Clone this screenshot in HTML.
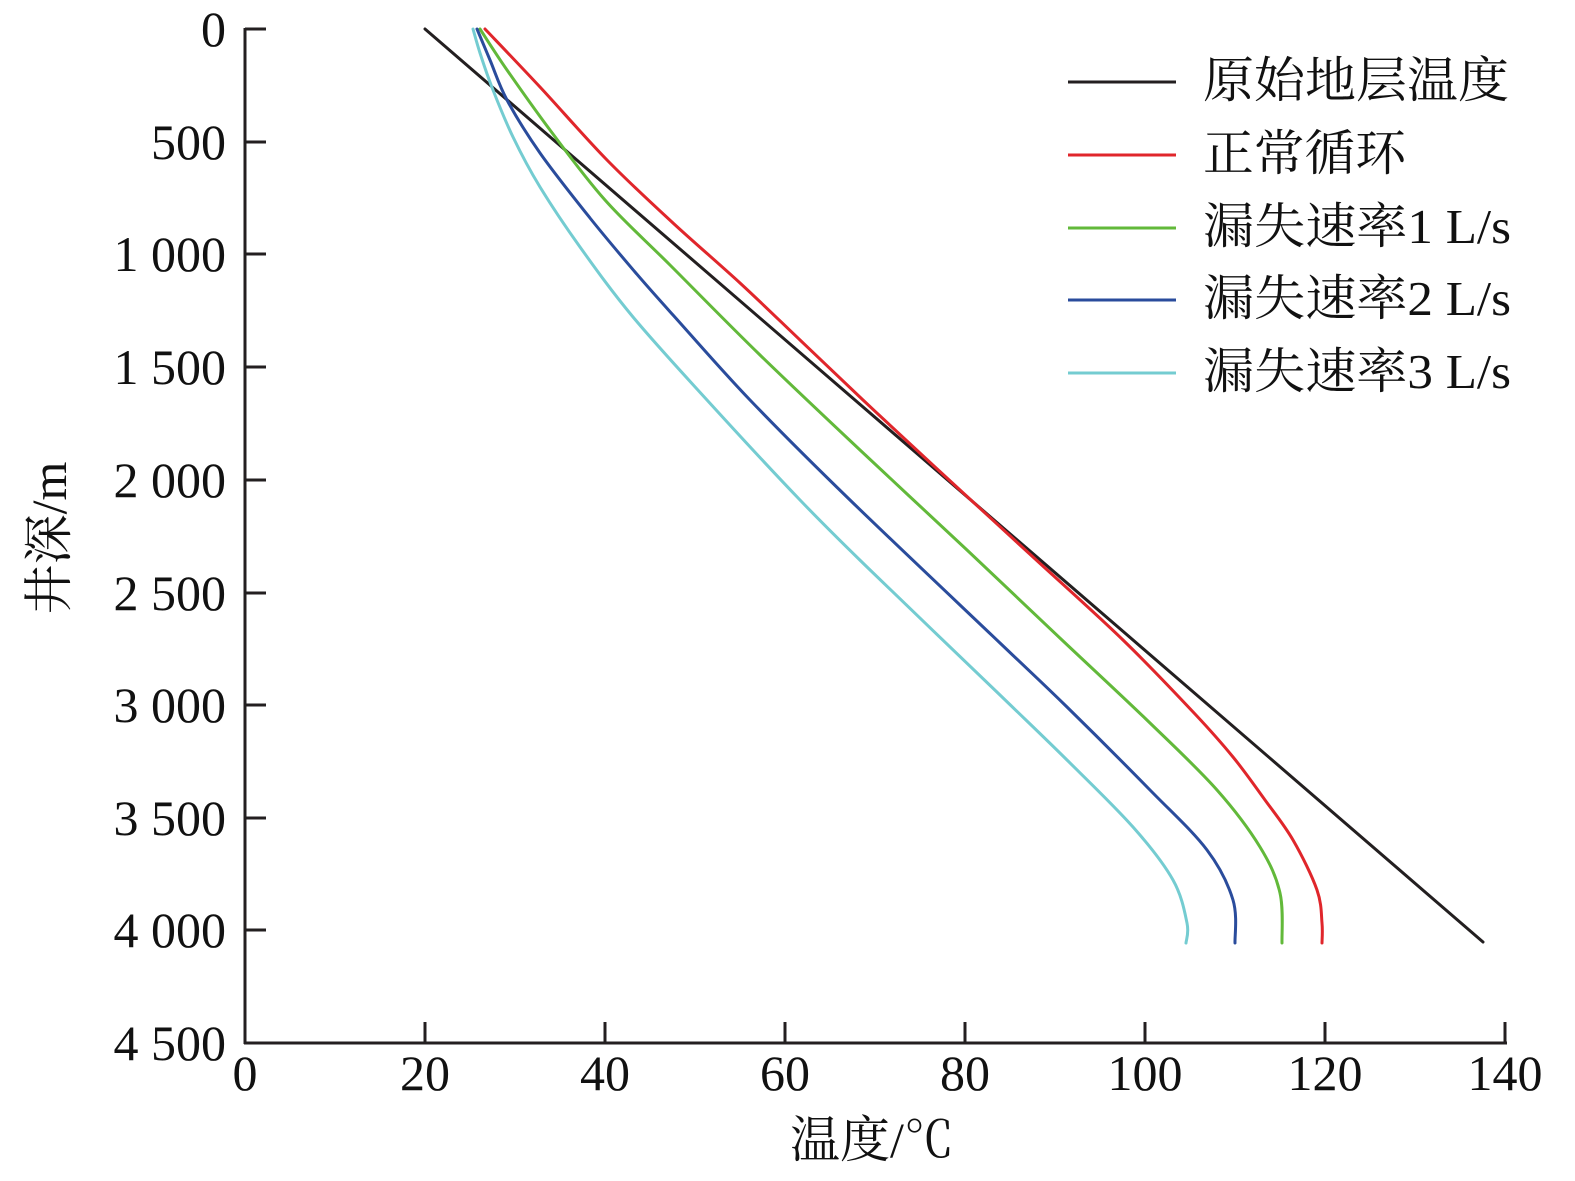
<!DOCTYPE html>
<html><head><meta charset="utf-8"><style>
html,body{margin:0;padding:0;background:#fff;}
svg{display:block;}
text{font-family:"Liberation Serif","Noto Serif CJK SC",serif;fill:#111;}
</style></head><body>
<svg width="1575" height="1181" viewBox="0 0 1575 1181" xmlns="http://www.w3.org/2000/svg">
<g stroke="#231f20" stroke-width="3" fill="none">
<line x1="245" y1="28" x2="245" y2="1044"/>
<line x1="244" y1="1043" x2="1507" y2="1043"/>
<line x1="245" y1="29" x2="266" y2="29"/>
<line x1="245" y1="142" x2="266" y2="142"/>
<line x1="245" y1="254" x2="266" y2="254"/>
<line x1="245" y1="367" x2="266" y2="367"/>
<line x1="245" y1="480" x2="266" y2="480"/>
<line x1="245" y1="593" x2="266" y2="593"/>
<line x1="245" y1="705" x2="266" y2="705"/>
<line x1="245" y1="818" x2="266" y2="818"/>
<line x1="245" y1="930" x2="266" y2="930"/>
<line x1="425" y1="1043" x2="425" y2="1022"/>
<line x1="605" y1="1043" x2="605" y2="1022"/>
<line x1="785" y1="1043" x2="785" y2="1022"/>
<line x1="965" y1="1043" x2="965" y2="1022"/>
<line x1="1145" y1="1043" x2="1145" y2="1022"/>
<line x1="1325" y1="1043" x2="1325" y2="1022"/>
<line x1="1505" y1="1043" x2="1505" y2="1022"/>
</g>
<g font-size="50" text-anchor="end">
<text x="226" y="46">0</text>
<text x="226" y="159">500</text>
<text x="226" y="271">1 000</text>
<text x="226" y="384">1 500</text>
<text x="226" y="497">2 000</text>
<text x="226" y="610">2 500</text>
<text x="226" y="722">3 000</text>
<text x="226" y="835">3 500</text>
<text x="226" y="947">4 000</text>
<text x="226" y="1060">4 500</text>
</g>
<g font-size="50" text-anchor="middle">
<text x="245" y="1090">0</text>
<text x="425" y="1090">20</text>
<text x="605" y="1090">40</text>
<text x="785" y="1090">60</text>
<text x="965" y="1090">80</text>
<text x="1145" y="1090">100</text>
<text x="1325" y="1090">120</text>
<text x="1505" y="1090">140</text>
<text x="872" y="1157">温度/℃</text>
<text transform="translate(66,538) rotate(-90)">井深/m</text>
</g>
<g fill="none" stroke-width="3" stroke-linejoin="round" stroke-linecap="round">
<polyline stroke="#231f20" points="425,29 1483,942"/>
<polyline class="sm" stroke="#e0262b" points="485,29 540,87 607,160 673,223 740,283 800,340 863,400 935,467 1033,557 1123,640 1195,714 1233,757 1265,800 1293,840 1317,890 1322,923 1322,943"/>
<polyline class="sm" stroke="#62b93a" points="480,29 507,70 550,130 605,200 670,265 760,355 860,450 967,550 1062,640 1150,723 1217,790 1260,847 1280,893 1282,943"/>
<polyline class="sm" stroke="#2a4c9c" points="477,29 490,60 507,100 540,153 590,218 635,272 673,315 750,400 850,500 1000,643 1067,707 1150,790 1207,850 1233,900 1235,943"/>
<polyline class="sm" stroke="#74ccd1" points="473,29 480,53 493,90 513,137 540,187 580,247 633,317 707,400 800,500 867,567 1000,695 1067,760 1133,827 1173,880 1187,923 1186,943"/>
</g>
<g stroke-width="3">
<line x1="1068" y1="82" x2="1176" y2="82" stroke="#231f20"/>
<line x1="1068" y1="155" x2="1176" y2="155" stroke="#e0262b"/>
<line x1="1068" y1="228" x2="1176" y2="228" stroke="#62b93a"/>
<line x1="1068" y1="300" x2="1176" y2="300" stroke="#2a4c9c"/>
<line x1="1068" y1="373" x2="1176" y2="373" stroke="#74ccd1"/>
</g>
<g font-size="49">
<text x="1203" y="97" textLength="306" lengthAdjust="spacingAndGlyphs">原始地层温度</text>
<text x="1203" y="170" textLength="203" lengthAdjust="spacingAndGlyphs">正常循环</text>
<text x="1203" y="243" textLength="308" lengthAdjust="spacingAndGlyphs">漏失速率1 L/s</text>
<text x="1203" y="315" textLength="308" lengthAdjust="spacingAndGlyphs">漏失速率2 L/s</text>
<text x="1203" y="388" textLength="308" lengthAdjust="spacingAndGlyphs">漏失速率3 L/s</text>
</g>
</svg>
<script>
(function(){
var ns="http://www.w3.org/2000/svg";
var pls=document.querySelectorAll("polyline.sm");
for(var k=0;k<pls.length;k++){
var pl=pls[k];
var p=pl.getAttribute("points").trim().split(/\s+/).map(function(s){var a=s.split(",");return [+a[0],+a[1]];});
var d="M"+p[0][0]+","+p[0][1];
for(var i=0;i<p.length-1;i++){
var p0=p[i>0?i-1:i],p1=p[i],p2=p[i+1],p3=p[i+2<p.length?i+2:i+1];
var c1x=p1[0]+(p2[0]-p0[0])/6,c1y=p1[1]+(p2[1]-p0[1])/6;
var c2x=p2[0]-(p3[0]-p1[0])/6,c2y=p2[1]-(p3[1]-p1[1])/6;
d+=" C"+c1x.toFixed(1)+","+c1y.toFixed(1)+" "+c2x.toFixed(1)+","+c2y.toFixed(1)+" "+p2[0]+","+p2[1];
}
var path=document.createElementNS(ns,"path");
path.setAttribute("d",d);
path.setAttribute("stroke",pl.getAttribute("stroke"));
pl.parentNode.replaceChild(path,pl);
}
})();
</script>
</body></html>
